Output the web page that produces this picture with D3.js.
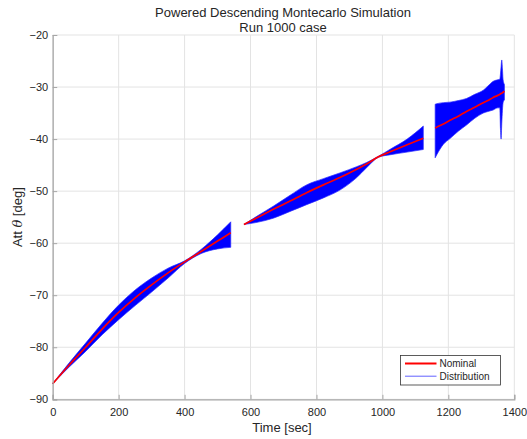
<!DOCTYPE html>
<html>
<head>
<meta charset="utf-8">
<script src="https://cdn.jsdelivr.net/npm/d3@7"></script>
<style>
  html, body { margin: 0; padding: 0; background: #fff; }
  svg { display: block; }
  text { font-family: "Liberation Sans", Arial, sans-serif; fill: #262626; }
</style>
</head>
<body>
<svg id="chart" width="527" height="439"></svg>
<script>
// Attitude angle during powered descent: nominal trajectory and the
// envelope of the 1000 Monte Carlo runs, split into three flight phases.

const xTicks = [0, 200, 400, 600, 800, 1000, 1200, 1400];
const yTicks = [-90, -80, -70, -60, -50, -40, -30, -20];

// Phase 1
const time1    = [0, 50, 100, 150, 200, 250, 300, 350, 400, 450, 500, 540];
const nominal1 = [-87, -83.4, -80.0, -76.5, -73.3, -70.5, -68.0, -65.7, -63.6, -61.6, -59.6, -58.0];
const upper1   = [-87, -83.0, -79.2, -75.4, -71.9, -69.0, -66.7, -64.8, -63.4, -61.2, -58.4, -55.9];
const lower1   = [-87, -83.8, -80.8, -77.6, -74.7, -72.0, -69.4, -66.7, -63.9, -62.0, -61.1, -60.8];

// Phase 2
const time2    = [580, 620, 669, 720, 770, 821, 871, 922, 952, 988, 1025, 1075, 1124];
const nominal2 = [-56.4, -55.1, -53.5, -51.9, -50.3, -48.8, -47.4, -45.8, -44.8, -43.4, -42.4, -41.1, -39.85];
const upper2   = [-56.4, -54.8, -52.9, -50.8, -48.8, -47.6, -46.5, -45.3, -44.5, -43.3, -41.9, -40.0, -37.5];
const lower2   = [-56.4, -56.0, -55.2, -53.9, -52.6, -51.3, -49.8, -47.4, -45.5, -43.5, -43.0, -42.5, -42.0];

// Phase 3
const time3    = [1160, 1165, 1185, 1205, 1230, 1255, 1280, 1306, 1320, 1336, 1350, 1356, 1358, 1360, 1362, 1364, 1366, 1370];
const nominal3 = [-37.9, -37.7, -37.1, -36.4, -35.6, -34.7, -33.9, -33.0, -32.6, -32.0, -31.6, -31.4, -31.3, -31.2, -31.2, -31.1, -31.0, -30.8];
const upper3   = [-33.3, -33.2, -33.0, -32.9, -32.6, -32.2, -31.4, -30.6, -29.8, -28.9, -28.6, -28.5, -27.5, -26.0, -24.8, -26.5, -28.6, -29.5];
const lower3   = [-43.6, -43.0, -41.0, -39.9, -38.5, -37.3, -36.0, -35.0, -34.7, -34.4, -34.0, -34.0, -38.0, -40.0, -37.0, -34.5, -33.0, -32.5];

const phases = [
  { t: time1, nom: nominal1, hi: upper1, lo: lower1 },
  { t: time2, nom: nominal2, hi: upper2, lo: lower2 },
  { t: time3, nom: nominal3, hi: upper3, lo: lower3 }
];

const svg = d3.select("#chart");
const plotL = 52.7, plotR = 514.3, plotT = 35, plotB = 399.3;

const x = d3.scaleLinear().domain([0, 1400]).range([plotL, plotR]);
const y = d3.scaleLinear().domain([-90, -20]).range([plotB, plotT]);

const fmt = d => d < 0 ? "\u2212" + Math.abs(d) : String(d);

// grid
const grid = svg.append("g").attr("stroke", "#e3e3e3").attr("stroke-width", 1);
xTicks.forEach(v => grid.append("line")
  .attr("x1", x(v)).attr("x2", x(v)).attr("y1", plotT).attr("y2", plotB));
yTicks.forEach(v => grid.append("line")
  .attr("x1", plotL).attr("x2", plotR).attr("y1", y(v)).attr("y2", y(v)));

// distribution envelopes
const area = d3.area()
  .x(d => x(d.t))
  .y0(d => y(d.lo))
  .y1(d => y(d.hi))
  .curve(d3.curveMonotoneX);
const line = d3.line().x(d => x(d.t)).y(d => y(d.v)).curve(d3.curveMonotoneX);

phases.forEach(p => {
  const pts = p.t.map((t, i) => ({ t, hi: p.hi[i], lo: p.lo[i] }));
  svg.append("path").datum(pts)
    .attr("d", area)
    .attr("fill", "#0000ff")
    .attr("stroke", "#2a2aff")
    .attr("stroke-width", 0.7)
    .attr("stroke-linejoin", "round");
});

// nominal trajectory
phases.forEach(p => {
  const pts = p.t.map((t, i) => ({ t, v: p.nom[i] }));
  svg.append("path").datum(pts)
    .attr("d", line)
    .attr("fill", "none")
    .attr("stroke", "#ff0000")
    .attr("stroke-width", 1.7);
});

// axes
const xAxis = d3.axisBottom(x).tickValues(xTicks).tickSize(-4.5).tickPadding(9).tickFormat(fmt);
const yAxis = d3.axisLeft(y).tickValues(yTicks).tickSize(-4.5).tickPadding(4.5).tickFormat(fmt);

const gx = svg.append("g").attr("transform", `translate(0,${plotB})`).call(xAxis);
const gy = svg.append("g").attr("transform", `translate(${plotL},0)`).call(yAxis);
[gx, gy].forEach(g => {
  g.select(".domain").attr("stroke", "#a6a6a6").attr("stroke-width", 1.2);
  g.selectAll(".tick line").attr("stroke", "#a6a6a6");
  g.selectAll(".tick text").attr("font-size", 11).attr("fill", "#262626")
    .style("font-family", '"Liberation Sans", Arial, sans-serif');
});

// titles
svg.append("text").attr("x", 283).attr("y", 16.5).attr("text-anchor", "middle")
  .attr("font-size", 13).text("Powered Descending Montecarlo Simulation");
svg.append("text").attr("x", 283).attr("y", 31.5).attr("text-anchor", "middle")
  .attr("font-size", 13).text("Run 1000 case");

svg.append("text").attr("x", 282).attr("y", 431.5).attr("text-anchor", "middle")
  .attr("font-size", 13).text("Time [sec]");

const yl = svg.append("text")
  .attr("transform", `translate(22,${(plotT + plotB) / 2}) rotate(-90)`)
  .attr("text-anchor", "middle").attr("font-size", 13);
yl.append("tspan").text("Att ");
yl.append("tspan").attr("font-style", "italic").attr("font-family", "DejaVu Serif").text("\u03b8");
yl.append("tspan").text(" [deg]");

// legend
const lg = svg.append("g").attr("transform", "translate(400.5,355.5)");
lg.append("rect").attr("width", 100).attr("height", 29.5)
  .attr("fill", "#fff").attr("stroke", "#333").attr("stroke-width", 0.8);
const entries = [
  { label: "Nominal", color: "#ff0000", w: 2 },
  { label: "Distribution", color: "#3a3aff", w: 0.8 }
];
entries.forEach((e, i) => {
  const yy = 8 + i * 12.7;
  lg.append("line").attr("x1", 4.5).attr("x2", 36).attr("y1", yy).attr("y2", yy)
    .attr("stroke", e.color).attr("stroke-width", e.w);
  lg.append("text").attr("x", 39).attr("y", yy + 3.6).attr("font-size", 10).text(e.label);
});
</script>
</body>
</html>
